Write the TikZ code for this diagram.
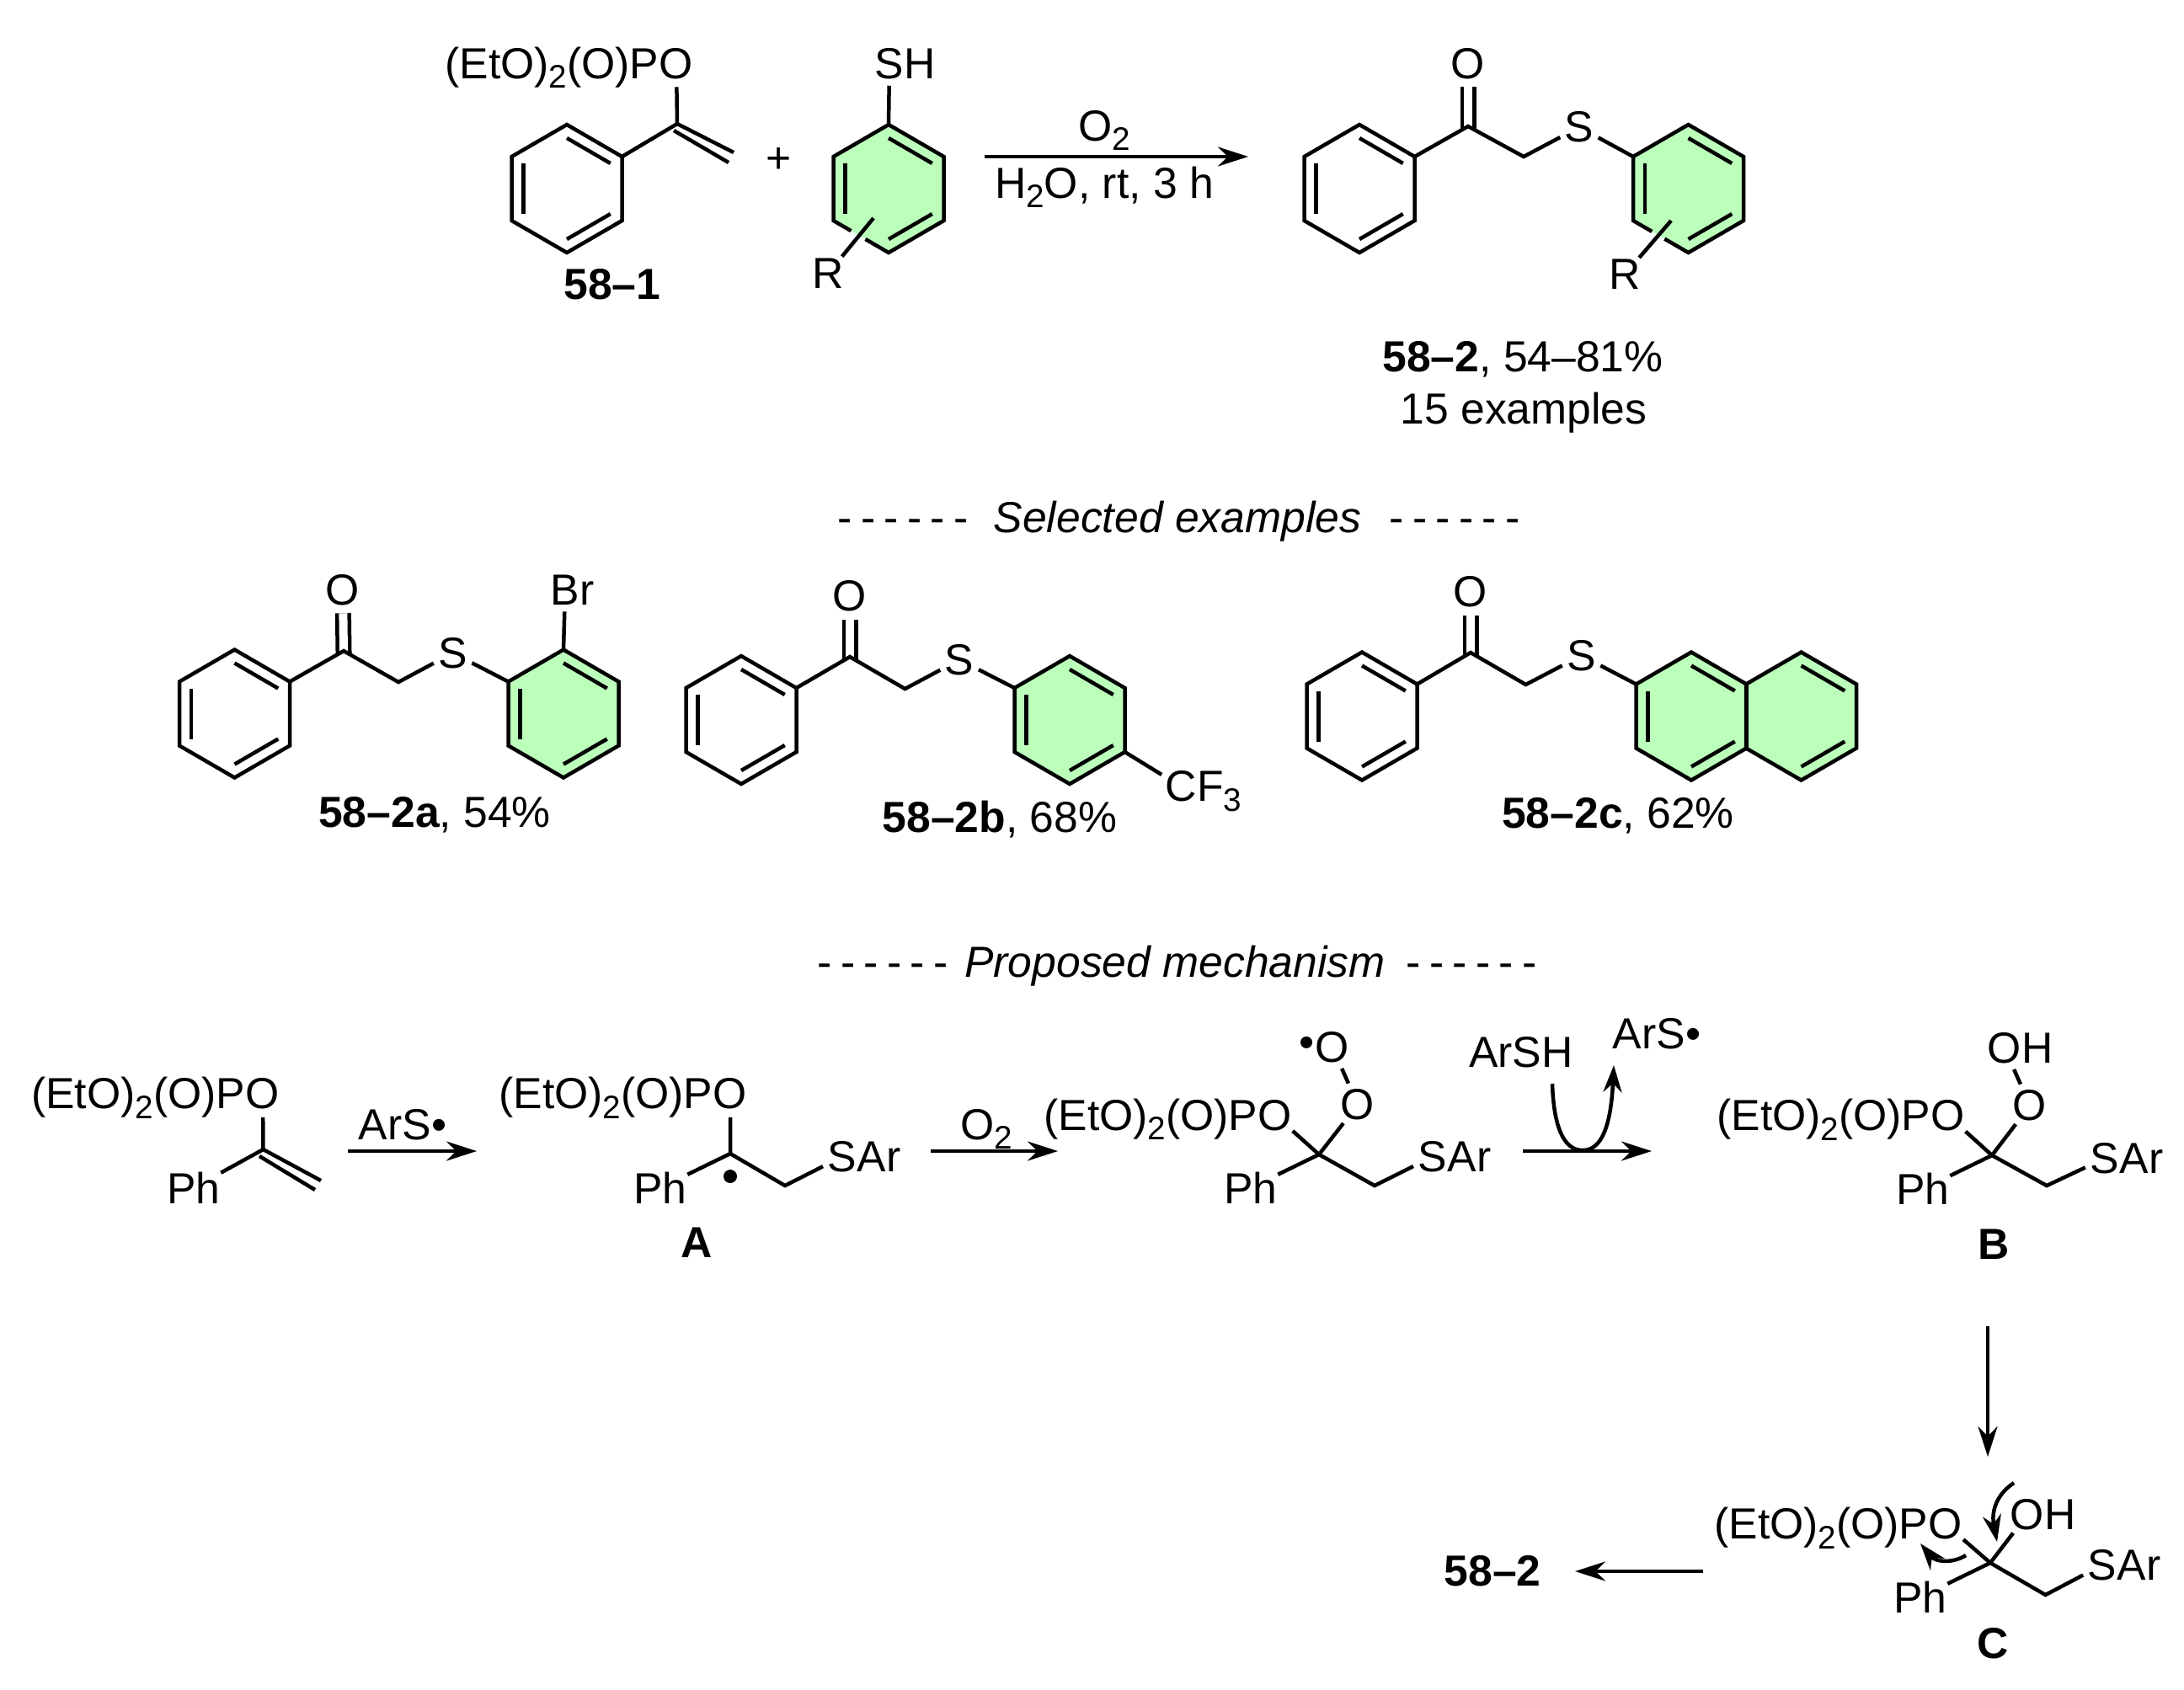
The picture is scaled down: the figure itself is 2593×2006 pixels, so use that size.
\documentclass[tikz,border=0pt]{standalone}
\usepackage{fontspec}
\setmainfont{Liberation Sans}
\usepackage{tikz}
\usetikzlibrary{arrows.meta,calc}
\definecolor{ringgreen}{HTML}{BBFFBB}
\tikzset{
    every node/.style={inner sep=0pt, font=\fontsize{14.7}{17}\selectfont}
}
\tikzset{
    bond/.style={line width=.45mm},
    dbl/.style={line width=.45mm, double, double distance=1mm, shorten <=-.4mm},
    arr/.style={line width=.45mm, -{Stealth[length=3.6mm,width=2.3mm]}},
    curly/.style={line width=.45mm, -{Stealth[length=3.2mm,width=2.2mm]}},
    atom/.style={circle},
    txt/.style={anchor=base},
    radical/.style={circle, fill, minimum size=1.6mm}
}
\pgfdeclarelayer{background}
\pgfsetlayers{background,main}
% ring corners, clockwise from the top
\newcommand{\ringverts}[3]{
	\coordinate (#1a) at (#2,#3-76);
	\coordinate (#1b) at (#2+65.5,#3-38);
	\coordinate (#1c) at (#2+65.5,#3+38);
	\coordinate (#1d) at (#2,#3+76);
	\coordinate (#1e) at (#2-65.5,#3+38);
	\coordinate (#1f) at (#2-65.5,#3-38);
	\coordinate (#1o) at (#2,#3);
}
\newcommand{\innerbond}[3]{
	\draw[bond] ($(#1#2)!.21!(#1o)$) -- ($(#1#3)!.21!(#1o)$);
}
\newcommand{\greenfill}[1]{
	\begin{pgfonlayer}{background}
		\fill[ringgreen] (#1a) -- (#1b) -- (#1c) -- (#1d) -- (#1e) -- (#1f) -- cycle;
	\end{pgfonlayer}
}
\newcommand{\benzene}[3]{
	\ringverts{#1}{#2}{#3}
	\draw[bond] (#1a) -- (#1b) -- (#1c) -- (#1d) -- (#1e) -- (#1f) -- cycle;
	\innerbond{#1}{a}{b} \innerbond{#1}{c}{d} \innerbond{#1}{e}{f}
}
% same ring, lower left bond broken where the R bond crosses it
\newcommand{\benzenegap}[5]{
	\ringverts{#1}{#2}{#3}
	\draw[bond] ($(#1e)!#5!(#1d)$) -- (#1d) -- (#1c) -- (#1b) -- (#1a) -- (#1f) -- (#1e) -- ($(#1e)!#4!(#1d)$);
	\innerbond{#1}{a}{b} \innerbond{#1}{c}{d} \innerbond{#1}{e}{f}
}
\newcommand{\subnum}[1]{\raisebox{-.22em}{\fontsize{11}{11}\selectfont #1}}
\newcommand{\phos}[3]{
	\node[atom] (#1) at (#2,#3) {O};
	\node[anchor=base east] (#1p) at ([xshift=-2mm]#1.base) {(EtO)\subnum{2}(O)P};
}
\newcommand{\sar}[3]{
	\node[atom] (#1) at (#2,#3) {S};
	\node[anchor=base west] (#1x) at ([xshift=1.7mm]#1.base) {Ar};
}
\newcommand{\hyphens}{-\kern.2em-\kern.2em-\kern.2em-\kern.2em-\kern.2em-}

\begin{document}
\begin{tikzpicture}[x=.1mm,y=-.1mm]
	\useasboundingbox (0,0) rectangle (2593,2006);

	% starting materials
	\benzene{r1}{673}{224}
	\phos{o1}{803}{75.5}
	\coordinate (c1) at (804,147);
	\coordinate (v1) at (871,181);
	\coordinate (c1b) at (800,155);
	\coordinate (v1b) at (865,193);
	\draw[bond] (r1b) -- (c1) -- (v1);
	\draw[bond] (c1b) -- (v1b);
	\draw[bond] (c1) -- (o1);
	\node[txt] (l1) at (727,355) {\textbf{58–1}};
	\node (plus) at (924.5,191) {+};

	\benzenegap{r2}{1055}{224}{.32}{.58}
	\greenfill{r2}
	\node[atom] (s2) at (1056,76) {S};
	\node[anchor=base west] (h2) at ([xshift=1.7mm]s2.base) {H};
	\draw[bond] (r2a) -- (s2);
	\coordinate (b2) at (1037,259);
	\node[atom] (x2) at (983,325) {R};
	\draw[bond] (b2) -- (x2);

	\coordinate (a1s) at (1169,186);
	\coordinate (a1e) at (1482,186);
	\draw[arr] (a1s) -- (a1e);
	\node[txt] (t1) at (1311,167) {O\subnum{2}};
	\node[txt] (t2) at (1311,235) {H\subnum{2}O, rt, 3 h};

	% product
	\benzene{r3}{1614}{224}
	\benzenegap{r4}{2004.5}{224}{.34}{.57}
	\greenfill{r4}
	\coordinate (c3) at (1743,150);
	\coordinate (m3) at (1809,186);
	\node[atom] (o3) at (1743,75.5) {O};
	\node[atom] (s3) at (1875,151) {S};
	\draw[dbl] (c3) -- (o3);
	\draw[bond] (r3b) -- (c3) -- (m3) -- (s3);
	\draw[bond] (s3) -- (r4f);
	\coordinate (b4) at (1984,262);
	\node[atom] (x4) at (1929,326) {R};
	\draw[bond] (b4) -- (x4);
	\node[txt] (l3) at (1808,441) {\textbf{58–2}, 54–81\%};
	\node[txt] (l3b) at (1809,503) {15 examples};

	\node[txt] (d1) at (1072,632) {\hyphens};
	\node[txt] (h1) at (1398,632) {\textit{Selected examples}};
	\node[txt] (d2) at (1727,632) {\hyphens};

	% 58-2a
	\benzene{r5}{278.5}{847.5}
	\benzene{r6}{669}{847.5}
	\greenfill{r6}
	\coordinate (c5) at (408,773);
	\coordinate (m5) at (473,810);
	\node[atom] (o5) at (407,700.5) {O};
	\node[atom] (s5) at (537.5,775.5) {S};
	\node[atom] (b6) at (671,701) {B};
	\node[anchor=base west] (b6x) at ([xshift=1.7mm]b6.base) {r};
	\draw[dbl] (c5) -- (o5);
	\draw[bond] (r5b) -- (c5) -- (m5) -- (s5);
	\draw[bond] (s5) -- (r6f);
	\draw[bond] (r6a) -- (b6);
	\node[txt] (l5) at (516,982) {\textbf{58–2a}, 54\%};

	% 58-2b
	\benzene{r7}{880}{855}
	\benzene{r8}{1270}{855}
	\greenfill{r8}
	\coordinate (c7) at (1009,780);
	\coordinate (m7) at (1074.5,818);
	\node[atom] (o7) at (1009,708) {O};
	\node[atom] (s7) at (1139,783.5) {S};
	\node[atom] (f8) at (1402,934) {C};
	\node[anchor=base west] (f8x) at ([xshift=1.84mm]f8.base) {F\subnum{3}};
	\draw[dbl] (c7) -- (o7);
	\draw[bond] (r7b) -- (c7) -- (m7) -- (s7);
	\draw[bond] (s7) -- (r8f);
	\draw[bond] (r8c) -- (f8);
	\node[txt] (l7) at (1187,988) {\textbf{58–2b}, 68\%};

	% 58-2c
	\benzene{r9}{1617}{850.5}
	\benzene{r10}{2008}{850.5}
	\ringverts{r11}{2138.5}{850.5}
	\draw[bond] (r11a) -- (r11b) -- (r11c) -- (r11d) -- (r11e) -- (r11f) -- cycle;
	\innerbond{r11}{a}{b} \innerbond{r11}{c}{d}
	\greenfill{r10} \greenfill{r11}
	\coordinate (c9) at (1746,775);
	\coordinate (m9) at (1811.5,813);
	\node[atom] (o9) at (1746,703) {O};
	\node[atom] (s9) at (1877.5,778.5) {S};
	\draw[dbl] (c9) -- (o9);
	\draw[bond] (r9b) -- (c9) -- (m9) -- (s9);
	\draw[bond] (s9) -- (r10f);
	\node[txt] (l9) at (1921,983) {\textbf{58–2c}, 62\%};

	\node[txt] (d3) at (1048,1160) {\hyphens};
	\node[txt] (h2t) at (1395,1160) {\textit{Proposed mechanism}};
	\node[txt] (d4) at (1747,1160) {\hyphens};

	% mechanism, first row
	\phos{o10}{312}{1299}
	\coordinate (c10) at (312.5,1365);
	\coordinate (v10) at (381,1402);
	\coordinate (c10b) at (308,1373);
	\coordinate (v10b) at (374,1413);
	\node (p10) at (230,1410.5) {Ph};
	\draw[bond] (o10) -- (c10) -- (v10);
	\draw[bond] (c10b) -- (v10b);
	\draw[bond] (c10) -- (p10);

	\coordinate (a2s) at (413,1367);
	\coordinate (a2e) at (566,1367);
	\draw[arr] (a2s) -- (a2e);
	\node[txt] (t3) at (478,1353) {ArS•};

	\phos{o11}{867}{1299}
	\coordinate (c11) at (867,1370);
	\coordinate (m11) at (932,1408);
	\node (p11) at (784,1410.5) {Ph};
	\sar{s11}{1000}{1373.5}
	\node[radical] (d11) at (867,1397) {};
	\draw[bond] (o11) -- (c11) -- (m11) -- (s11);
	\draw[bond] (c11) -- (p11);
	\node[txt] (lA) at (827,1493) {\textbf{A}};

	\coordinate (a3s) at (1105,1367);
	\coordinate (a3e) at (1256,1367);
	\draw[arr] (a3s) -- (a3e);
	\node[txt] (t4) at (1171,1353) {O\subnum{2}};

	\phos{o12}{1514}{1324.5}
	\coordinate (c12) at (1566,1371);
	\coordinate (m12) at (1632,1408);
	\node[atom] (o12a) at (1612,1312) {O};
	\node[atom] (o12b) at (1582,1243.5) {O};
	\node (d12) at (1552,1243) {•};
	\node (p12) at (1485,1410.5) {Ph};
	\sar{s12}{1701}{1373.5}
	\draw[bond] (o12) -- (c12) -- (m12) -- (s12);
	\draw[bond] (c12) -- (o12a);
	\draw[bond] (o12a) -- (o12b);
	\draw[bond] (c12) -- (p12);

	\coordinate (a4s) at (1808,1367);
	\coordinate (a4e) at (1961,1367);
	\draw[arr] (a4s) -- (a4e);
	\coordinate (u1) at (1843,1287);
	\coordinate (u2) at (1916,1265);
	\draw[curly] (u1) .. controls (1845,1350) and (1862,1366) .. (1879,1366) .. controls (1896,1366) and (1912,1350) .. (u2);
	\node[txt] (t5) at (1806,1267) {ArSH};
	\node[txt] (t6) at (1967,1245) {ArS•};

	\phos{o13}{2313}{1325}
	\coordinate (c13) at (2365,1372);
	\coordinate (m13) at (2430,1408);
	\node[atom] (o13a) at (2410,1313) {O};
	\node[atom] (o13b) at (2380,1244.5) {O};
	\node[anchor=base west] (h13) at ([xshift=2mm]o13b.base) {H};
	\node (p13) at (2283,1412) {Ph};
	\sar{s13}{2499}{1375.5}
	\draw[bond] (o13) -- (c13) -- (m13) -- (s13);
	\draw[bond] (c13) -- (o13a);
	\draw[bond] (o13a) -- (o13b);
	\draw[bond] (c13) -- (p13);
	\node[txt] (lB) at (2367,1495) {\textbf{B}};

	\coordinate (a5s) at (2360,1575);
	\coordinate (a5e) at (2360,1730);
	\draw[arr] (a5s) -- (a5e);

	% last intermediate
	\phos{o14}{2310}{1810}
	\coordinate (c14) at (2363,1856);
	\coordinate (m14) at (2428.5,1894);
	\node[atom] (o14a) at (2407,1798.5) {O};
	\node[anchor=base west] (h14) at ([xshift=2mm]o14a.base) {H};
	\node (p14) at (2280,1896.5) {Ph};
	\sar{s14}{2496}{1858.5}
	\draw[bond] (o14) -- (c14) -- (m14) -- (s14);
	\draw[bond] (c14) -- (o14a);
	\draw[bond] (c14) -- (p14);
	\node[txt] (lC) at (2366,1969) {\textbf{C}};
	\coordinate (e1) at (2391,1761);
	\coordinate (e2) at (2371,1831);
	\draw[curly] (e1) .. controls (2370,1775) and (2364,1795) .. (e2);
	\coordinate (e3) at (2334,1847);
	\coordinate (e4) at (2280,1833);
	\draw[curly] (e3) .. controls (2318,1857) and (2298,1855) .. (e4);

	\coordinate (a6s) at (2022,1866);
	\node (l14) at (1772,1866) {\textbf{58–2}};
	\coordinate (a6e) at (1870,1866);
	\draw[arr] (a6s) -- (a6e);
\end{tikzpicture}
\end{document}
